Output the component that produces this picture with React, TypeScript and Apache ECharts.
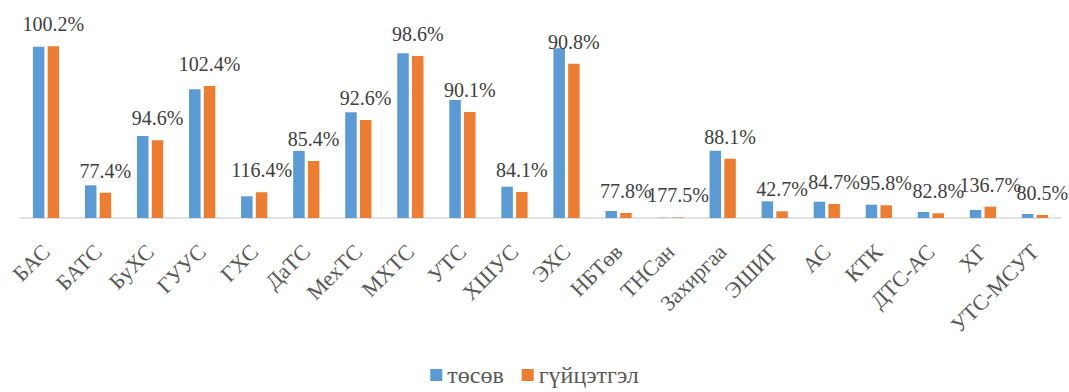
import React, { useEffect, useRef } from "react";
import * as echarts from "echarts";

const categories = [
  "БАС", "БАТС", "БуХС", "ГУУС", "ГХС", "ДаТС", "МехТС", "МХТС", "УТС", "ХШУС", "ЭХС",
  "НБТөв", "ТНСан", "Захиргаа", "ЭШИГ", "АС", "КТК", "ДТС-АС", "ХГ", "УТС-МСУТ",
];
const budget = [171.3, 32.7, 82.0, 128.7, 21.7, 67.0, 105.7, 164.7, 118.0, 31.3, 169.7, 7.0, 0.3, 67.3, 16.7, 16.3, 13.3, 6.0, 8.0, 4.0];
const actual = [171.7, 25.3, 77.7, 132.0, 25.7, 57.0, 98.0, 162.0, 106.0, 26.0, 154.3, 5.0, 0.53, 59.3, 6.7, 14.0, 12.7, 4.7, 11.3, 3.0];
const percentLabels = [
  "100.2%", "77.4%", "94.6%", "102.4%", "116.4%", "85.4%", "92.6%", "98.6%", "90.1%", "84.1%", "90.8%",
  "77.8%", "177.5%", "88.1%", "42.7%", "84.7%", "95.8%", "82.8%", "136.7%", "80.5%",
];
const seriesNames = ["төсөв", "гүйцэтгэл"];

const FONT = "Liberation Serif, DejaVu Serif, serif";

export default function App() {
  const ref = useRef<HTMLDivElement>(null);
  useEffect(() => {
    if (!ref.current) return;
    const chart = echarts.init(ref.current, null, { renderer: "svg" });
    chart.setOption({
      animation: false,
      backgroundColor: "#ffffff",
      textStyle: { fontFamily: FONT },
      grid: { left: 20, right: 8, top: 18, bottom: 174, containLabel: false },
      legend: {
        bottom: 0,
        left: "center",
        itemWidth: 12,
        itemHeight: 12,
        itemGap: 18,
        icon: "rect",
        textStyle: { fontFamily: FONT, fontSize: 24, color: "#595959" },
        data: seriesNames,
      },
      xAxis: {
        type: "category",
        data: categories,
        axisLine: { lineStyle: { color: "#d9d9d9", width: 1.5 } },
        axisTick: { show: false },
        axisLabel: {
          rotate: 45,
          interval: 0,
          margin: 30,
          align: "right",
          verticalAlign: "middle",
          fontFamily: FONT,
          fontSize: 22,
          color: "#595959",
        },
      },
      yAxis: {
        type: "value",
        min: 0,
        max: 200,
        show: false,
        splitLine: { show: false },
      },
      series: [
        {
          name: seriesNames[0],
          type: "bar",
          data: budget,
          barWidth: 11.5,
          barGap: "28%",
          itemStyle: { color: "#5B9BD5" },
        },
        {
          name: seriesNames[1],
          type: "bar",
          data: actual,
          barWidth: 11.5,
          itemStyle: { color: "#ED7D31" },
          label: {
            show: true,
            position: "top",
            distance: 12,
            fontFamily: FONT,
            fontSize: 20,
            color: "#404040",
            formatter: (p: any) => percentLabels[p.dataIndex],
          },
        },
      ],
    });
    return () => chart.dispose();
  }, []);
  return (
    <div
      ref={ref}
      style={{ position: "absolute", left: 0, top: 0, width: 1069, height: 392 }}
    />
  );
}
